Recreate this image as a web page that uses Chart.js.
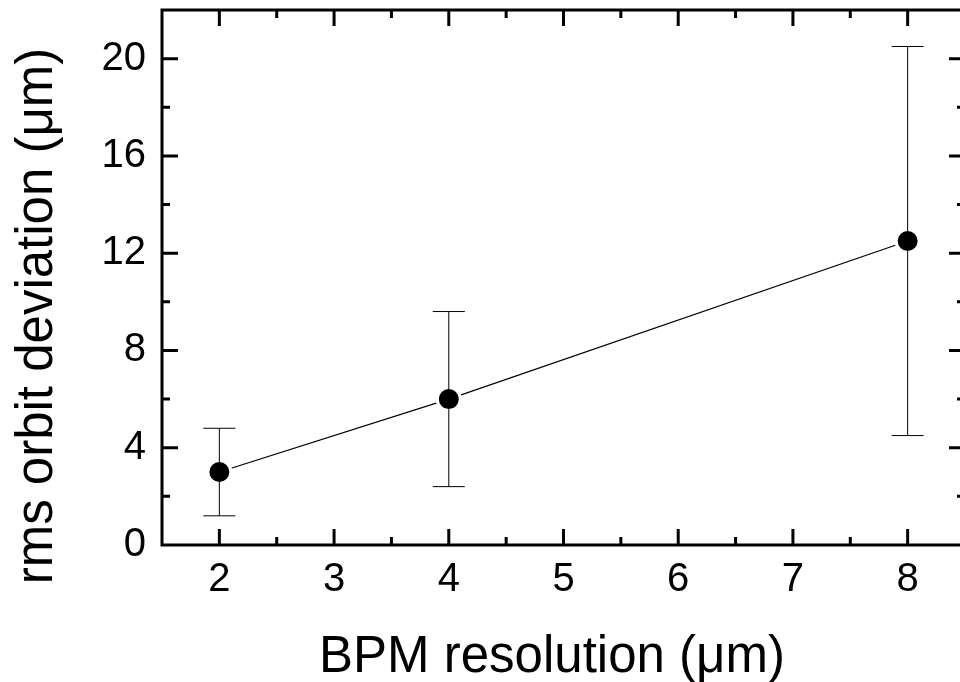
<!DOCTYPE html>
<html>
<head>
<meta charset="utf-8">
<script src="https://cdn.jsdelivr.net/npm/chart.js@4/dist/chart.umd.min.js"></script>
<style>
  html, body { margin: 0; padding: 0; background: #fff; overflow: hidden; }
  #wrap { width: 960px; height: 682px; overflow: hidden; }
</style>
</head>
<body>
<div id="wrap"><canvas id="chart" width="980" height="682"></canvas></div>
<script>
'use strict'
// BPM resolution (um) vs rms orbit deviation (um)
const resolution = [2, 4, 8];
const deviation = [3, 6, 12.5];
const deviationErr = [1.8, 3.6, 8];

const xTicks = [2, 3, 4, 5, 6, 7, 8];
const yTicks = [0, 4, 8, 12, 16, 20];
const xTitle = 'BPM resolution (μm)';
const yTitle = 'rms orbit deviation (μm)';

const FONT = "'Liberation Sans', Arial, sans-serif";

// error bars, drawn on the scales
const errorBars = {
    id: 'errorBars',
    afterDatasetsDraw(chart) {
        const ctx = chart.ctx, xs = chart.scales.x, ys = chart.scales.y;
        ctx.save();
        ctx.strokeStyle = '#000';
        ctx.lineWidth = 1;
        resolution.forEach((r, i) => {
            const x = xs.getPixelForValue(r);
            const lo = ys.getPixelForValue(deviation[i] - deviationErr[i]);
            const hi = ys.getPixelForValue(deviation[i] + deviationErr[i]);
            ctx.beginPath();
            ctx.moveTo(x, lo); ctx.lineTo(x, hi);
            ctx.moveTo(x - 16, lo); ctx.lineTo(x + 16, lo);
            ctx.moveTo(x - 16, hi); ctx.lineTo(x + 16, hi);
            ctx.stroke();
        });
        ctx.restore();
    }
};

// frame with inward ticks on all four sides, plus the axis titles
const frame = {
    id: 'frame',
    afterDraw(chart) {
        const ctx = chart.ctx, a = chart.chartArea, xs = chart.scales.x, ys = chart.scales.y;
        ctx.save();
        ctx.strokeStyle = '#000';
        ctx.lineWidth = 3;
        ctx.strokeRect(a.left, a.top, a.right - a.left, a.bottom - a.top);
        ctx.beginPath();
        for (let v = 1.5; v <= 8.5; v += 0.5) {
            if (v <= xs.min || v >= xs.max) continue;
            const x = xs.getPixelForValue(v);
            const len = Number.isInteger(v) ? 16 : 8;
            ctx.moveTo(x, a.bottom); ctx.lineTo(x, a.bottom - len);
            ctx.moveTo(x, a.top); ctx.lineTo(x, a.top + len);
        }
        for (let v = 2; v < 22; v += 2) {
            const y = ys.getPixelForValue(v);
            const len = v % 4 == 0 ? 16 : 8;
            ctx.moveTo(a.left, y); ctx.lineTo(a.left + len, y);
            ctx.moveTo(a.right, y); ctx.lineTo(a.right - len, y);
        }
        ctx.stroke();

        ctx.fillStyle = '#000';
        ctx.font = '51px ' + FONT;
        ctx.textAlign = 'center';
        ctx.textBaseline = 'alphabetic';
        ctx.fillText(xTitle, 552, 672);
        ctx.translate(52, 316);
        ctx.rotate(-Math.PI / 2);
        ctx.fillText(yTitle, 0, 0);
        ctx.restore();
    }
};

new Chart(document.getElementById('chart'), {
    type: 'line',
    data: {
        datasets: [{
            data: resolution.map((x, i) => ({ x: x, y: deviation[i] })),
            borderColor: '#000',
            borderWidth: 1.2,
            pointRadius: 11.5,
            pointBackgroundColor: '#000',
            pointBorderColor: '#fff',
            pointBorderWidth: 3,
            tension: 0,
            clip: false
        }]
    },
    options: {
        responsive: false,
        animation: false,
        layout: { autoPadding: false, padding: { top: 10, right: 15, left: 0, bottom: 0 } },
        plugins: { legend: { display: false }, tooltip: { enabled: false } },
        scales: {
            x: {
                type: 'linear',
                min: 1.5,
                max: 8.5,
                grid: { display: false, drawTicks: false },
                border: { display: false },
                afterBuildTicks: s => { s.ticks = xTicks.map(v => ({ value: v })) },
                afterFit: s => { s.height = 137; s.paddingLeft = 0; s.paddingRight = 0 },
                ticks: { color: '#000', font: { family: FONT, size: 40 }, padding: 11, maxRotation: 0 }
            },
            y: {
                min: 0,
                max: 22,
                grid: { display: false, drawTicks: false },
                border: { display: false },
                afterBuildTicks: s => { s.ticks = yTicks.map(v => ({ value: v })) },
                afterFit: s => { s.width = 162; s.paddingTop = 0; s.paddingBottom = 0 },
                ticks: { color: '#000', font: { family: FONT, size: 40 }, padding: 16 }
            }
        }
    },
    plugins: [errorBars, frame]
});
</script>
</body>
</html>
